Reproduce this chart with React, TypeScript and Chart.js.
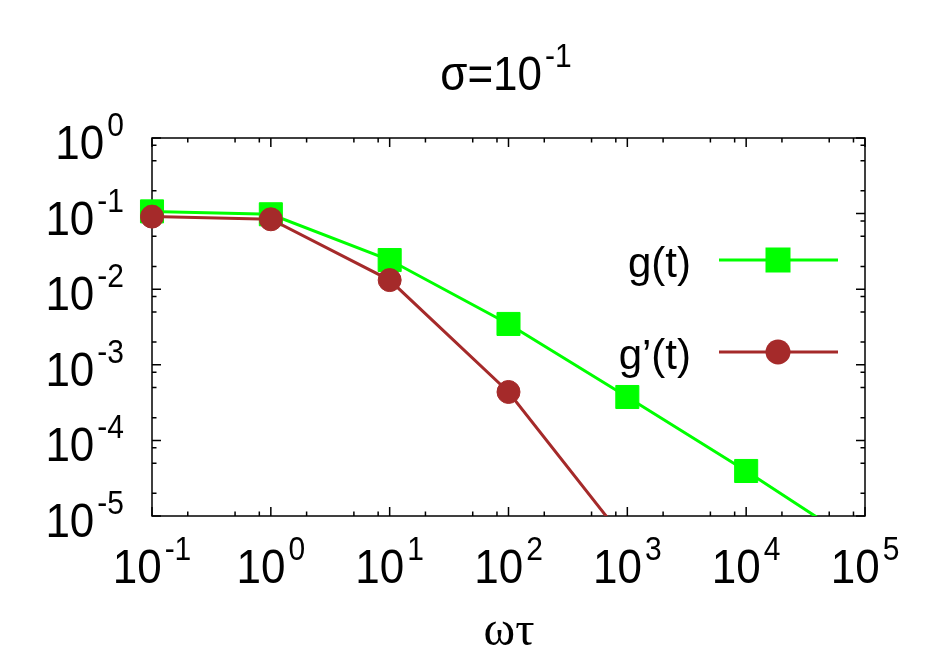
import React, { useEffect, useRef } from "react";
import { Chart, registerables } from "chart.js";

Chart.register(...registerables);

// ---- data ----
const gX = [0.1, 1, 10, 100, 1000, 10000, 100000];
const gValues = [0.107, 0.098, 0.0243, 0.00347, 3.75e-4, 3.94e-5, 3.7e-6];
const gPrimeX = [0.1, 1, 10, 100, 1000];
const gPrimeValues = [0.0912, 0.0841, 0.0132, 4.37e-4, 4.4e-6];

const xTickExponents = [-1, 0, 1, 2, 3, 4, 5];
const yTickExponents = [-5, -4, -3, -2, -1, 0];
const minorMultipliers = [2, 5, 8];

const seriesLabels = ["g(t)", "g\u2019(t)"];
const titleBase = "\u03c3=10";
const titleExponent = "-1";
const xAxisTitle = "\u03c9\u03c4";

const GREEN = "#00ff00";
const BROWN = "#a52a2a";
const SANS = '"Liberation Sans", Arial, Helvetica, sans-serif';
const SERIF = '"Liberation Serif", "Times New Roman", serif';

function drawSup(
  ctx: CanvasRenderingContext2D,
  base: string,
  sup: string,
  x: number,
  y: number,
  align: "center" | "right" | "left"
) {
  const baseFont = `44px ${SANS}`;
  const supFont = `30px ${SANS}`;
  const gap = 3;
  const vScale = 1.08;
  ctx.font = baseFont;
  const wb = ctx.measureText(base).width;
  ctx.font = supFont;
  const ws = ctx.measureText(sup).width;
  const total = wb + gap + ws;
  let start = x;
  if (align === "center") start = x - total / 2;
  else if (align === "right") start = x - total;
  ctx.save();
  ctx.translate(start, y);
  ctx.scale(1, vScale);
  ctx.textAlign = "left";
  ctx.textBaseline = "alphabetic";
  ctx.fillStyle = "#000";
  ctx.font = baseFont;
  ctx.fillText(base, 0, 0);
  ctx.font = supFont;
  ctx.fillText(sup, wb + gap, -23 / vScale);
  ctx.restore();
}

const framePlugin = {
  id: "gnuplotFrame",
  beforeDatasetsDraw(chart: any) {
    const { ctx, chartArea } = chart;
    const { left, right, top, bottom } = chartArea;
    const xs = chart.scales.x;
    const ys = chart.scales.y;
    ctx.save();
    ctx.strokeStyle = "#000";
    ctx.lineWidth = 1.5;
    ctx.strokeRect(left, top, right - left, bottom - top);
    const major = 9;
    const minor = 4.5;
    ctx.beginPath();
    xTickExponents.forEach((e, i) => {
      const v = Math.pow(10, e);
      const px = xs.getPixelForValue(v);
      ctx.moveTo(px, bottom);
      ctx.lineTo(px, bottom - major);
      ctx.moveTo(px, top);
      ctx.lineTo(px, top + major);
      if (i < xTickExponents.length - 1) {
        minorMultipliers.forEach((m) => {
          const mx = xs.getPixelForValue(v * m);
          ctx.moveTo(mx, bottom);
          ctx.lineTo(mx, bottom - minor);
          ctx.moveTo(mx, top);
          ctx.lineTo(mx, top + minor);
        });
      }
    });
    yTickExponents.forEach((e, i) => {
      const v = Math.pow(10, e);
      const py = ys.getPixelForValue(v);
      ctx.moveTo(left, py);
      ctx.lineTo(left + major, py);
      ctx.moveTo(right, py);
      ctx.lineTo(right - major, py);
      if (i < yTickExponents.length - 1) {
        minorMultipliers.forEach((m) => {
          const my = ys.getPixelForValue(v * m);
          ctx.moveTo(left, my);
          ctx.lineTo(left + minor, my);
          ctx.moveTo(right, my);
          ctx.lineTo(right - minor, my);
        });
      }
    });
    ctx.stroke();
    ctx.restore();
  },
  afterDraw(chart: any) {
    const { ctx, chartArea } = chart;
    const xs = chart.scales.x;
    const ys = chart.scales.y;
    ctx.save();
    xTickExponents.forEach((e) => {
      const px = xs.getPixelForValue(Math.pow(10, e));
      drawSup(ctx, "10", String(e), px, chartArea.bottom + 67, "center");
    });
    yTickExponents.forEach((e) => {
      const py = ys.getPixelForValue(Math.pow(10, e));
      drawSup(ctx, "10", String(e), chartArea.left - 28, py + 21, "right");
    });
    drawSup(ctx, titleBase, titleExponent, 506, 90, "center");
    ctx.font = `48px ${SERIF}`;
    ctx.textAlign = "center";
    ctx.textBaseline = "alphabetic";
    ctx.fillStyle = "#000";
    ctx.fillText(xAxisTitle, 509, 645);
    const legendRows = [
      { label: seriesLabels[0], color: GREEN, style: "rect", y: 260 },
      { label: seriesLabels[1], color: BROWN, style: "circle", y: 352 },
    ];
    legendRows.forEach((row) => {
      ctx.font = `42px ${SANS}`;
      ctx.textAlign = "right";
      ctx.fillStyle = "#000";
      ctx.fillText(row.label, 691, row.y + 17);
      ctx.strokeStyle = row.color;
      ctx.lineWidth = 3;
      ctx.beginPath();
      ctx.moveTo(719, row.y);
      ctx.lineTo(838, row.y);
      ctx.stroke();
      ctx.fillStyle = row.color;
      if (row.style === "rect") {
        ctx.fillRect(778 - 12.5, row.y - 12.5, 25, 25);
      } else {
        ctx.beginPath();
        ctx.arc(778, row.y, 12.5, 0, Math.PI * 2);
        ctx.fill();
      }
    });
    ctx.restore();
  },
};

export default function App() {
  const canvasRef = useRef<HTMLCanvasElement | null>(null);

  useEffect(() => {
    if (!canvasRef.current) return;
    const clip = { left: 20, top: 20, right: 20, bottom: 0 };
    const chart = new Chart(canvasRef.current, {
      type: "line",
      data: {
        datasets: [
          {
            label: seriesLabels[1],
            data: gPrimeX.map((x, i) => ({ x, y: gPrimeValues[i] })),
            borderColor: BROWN,
            backgroundColor: BROWN,
            borderWidth: 3,
            pointStyle: "circle",
            pointRadius: 11.5,
            pointBorderWidth: 1,
            pointBorderColor: BROWN,
            pointBackgroundColor: BROWN,
            tension: 0,
            clip,
            order: 0,
          } as any,
          {
            label: seriesLabels[0],
            data: gX.map((x, i) => ({ x, y: gValues[i] })),
            borderColor: GREEN,
            backgroundColor: GREEN,
            borderWidth: 3,
            pointStyle: "rect",
            pointRadius: 16.3,
            pointBorderWidth: 1,
            pointBorderColor: GREEN,
            pointBackgroundColor: GREEN,
            tension: 0,
            clip,
            order: 1,
          } as any,
        ],
      },
      options: {
        responsive: false,
        animation: false,
        devicePixelRatio: 1,
        events: [],
        layout: { padding: { left: 152, top: 138, right: 84, bottom: 148 } },
        scales: {
          x: { type: "logarithmic", min: 0.1, max: 100000, display: false },
          y: { type: "logarithmic", min: 1e-5, max: 1, display: false },
        },
        plugins: {
          legend: { display: false },
          tooltip: { enabled: false },
          title: { display: false },
        },
      },
      plugins: [framePlugin],
    });
    return () => chart.destroy();
  }, []);

  return (
    <div style={{ position: "absolute", left: 0, top: 0, width: 949, height: 664, background: "#fff" }}>
      <canvas ref={canvasRef} width={949} height={664} style={{ display: "block" }} />
    </div>
  );
}
